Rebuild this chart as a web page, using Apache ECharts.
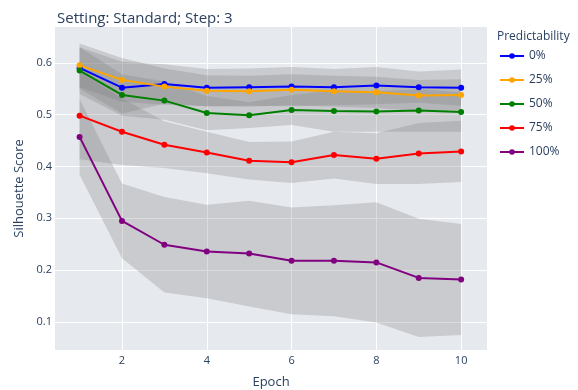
<!DOCTYPE html>
<html>
<head>
<meta charset="utf-8">
<script src="https://cdn.jsdelivr.net/npm/echarts@6/dist/echarts.min.js"></script>
<style>html,body{margin:0;padding:0;background:#fff;}#c{width:578px;height:390px;}</style>
</head>
<body>
<div id="c"></div>
<script>
const epochs = [1, 2, 3, 4, 5, 6, 7, 8, 9, 10];
const names = ['0%', '25%', '50%', '75%', '100%'];
const colors = ['#0000ff', '#ffa500', '#008000', '#ff0000', '#800080'];
const mean0 = [0.590, 0.552, 0.559, 0.552, 0.553, 0.554, 0.553, 0.556, 0.553, 0.552];
const std0 = [0.040, 0.050, 0.038, 0.036, 0.036, 0.038, 0.035, 0.036, 0.030, 0.035];
const mean25 = [0.595, 0.567, 0.554, 0.546, 0.545, 0.548, 0.545, 0.543, 0.537, 0.538];
const std25 = [0.042, 0.042, 0.035, 0.030, 0.030, 0.030, 0.030, 0.030, 0.030, 0.030];
const mean50 = [0.585, 0.538, 0.527, 0.503, 0.499, 0.509, 0.507, 0.506, 0.508, 0.505];
const std50 = [0.045, 0.040, 0.037, 0.033, 0.025, 0.029, 0.040, 0.039, 0.041, 0.038];
const mean75 = [0.498, 0.467, 0.442, 0.427, 0.411, 0.408, 0.422, 0.415, 0.425, 0.429];
const std75 = [0.084, 0.064, 0.045, 0.040, 0.036, 0.040, 0.045, 0.049, 0.059, 0.059];
const mean100 = [0.457, 0.295, 0.249, 0.236, 0.232, 0.218, 0.218, 0.215, 0.185, 0.182];
const std100 = [0.073, 0.072, 0.092, 0.090, 0.102, 0.103, 0.107, 0.116, 0.114, 0.107];
const xTicks = [2, 4, 6, 8, 10];
const yTicks = [0.1, 0.2, 0.3, 0.4, 0.5, 0.6];

const means = [mean0, mean25, mean50, mean75, mean100];
const stds = [std0, std25, std50, std75, std100];
const textColor = '#2a3f5f';
const font = '"Open Sans", "Noto Sans", sans-serif';

const series = [];
means.forEach((m, i) => {
  const s = stds[i];
  const upper = epochs.map((e, k) => [e, m[k] + s[k]]);
  const lower = epochs.map((e, k) => [e, m[k] - s[k]]);
  series.push({
    name: 'band_' + i, type: 'custom', silent: true, z: 1,
    data: [[epochs[0], m[0]]],
    renderItem: function (params, api) {
      const pts = upper.concat(lower.slice().reverse()).map(p => api.coord(p));
      return {
        type: 'polygon',
        shape: { points: pts },
        style: { fill: 'rgba(120,120,120,0.26)' }
      };
    }
  });
});
means.forEach((m, i) => {
  series.push({
    name: names[i], type: 'line', z: 5,
    symbol: 'circle', symbolSize: 6,
    itemStyle: { color: colors[i] },
    lineStyle: { color: colors[i], width: 2 },
    data: epochs.map((e, k) => [e, m[k]])
  });
});

const chart = echarts.init(document.getElementById('c'));
chart.setOption({
  animation: false,
  textStyle: { fontFamily: font },
  title: {
    text: 'Setting: Standard; Step: 3', left: 52, top: 6,
    textStyle: { fontFamily: font, fontSize: 15, fontWeight: 'normal', color: textColor }
  },
  legend: {
    data: names, orient: 'vertical', left: 494, top: 45,
    itemWidth: 24, itemHeight: 7, itemGap: 12,
    textStyle: { fontFamily: font, fontSize: 12, color: textColor }
  },
  graphic: [{
    type: 'text', left: 497, top: 31,
    style: { text: 'Predictability', fontFamily: font, fontSize: 12, fill: textColor }
  }],
  grid: {
    left: 55, top: 27, width: 432, height: 323, show: true,
    backgroundColor: '#e6e9ee', borderWidth: 0,
    containLabel: false, outerBoundsMode: 'none'
  },
  xAxis: {
    type: 'value', min: 0.42, max: 10.61,
    name: 'Epoch', nameLocation: 'middle', nameGap: 26,
    nameTextStyle: { fontFamily: font, fontSize: 13, color: textColor },
    axisLine: { show: false },
    axisTick: { show: false, customValues: xTicks },
    axisLabel: { customValues: xTicks, color: textColor, fontSize: 11, margin: 5 },
    splitLine: { show: true, lineStyle: { color: '#ffffff', width: 1 } }
  },
  yAxis: {
    type: 'value', min: 0.046, max: 0.669,
    name: 'Silhouette Score', nameLocation: 'middle', nameGap: 29,
    nameTextStyle: { fontFamily: font, fontSize: 13, color: textColor },
    axisLine: { show: false },
    axisTick: { show: false, customValues: yTicks },
    axisLabel: { customValues: yTicks, color: textColor, fontSize: 11, margin: 3,
      formatter: v => v.toFixed(1) },
    splitLine: { show: true, lineStyle: { color: '#ffffff', width: 1 } }
  },
  series: series
});
</script>
</body>
</html>
